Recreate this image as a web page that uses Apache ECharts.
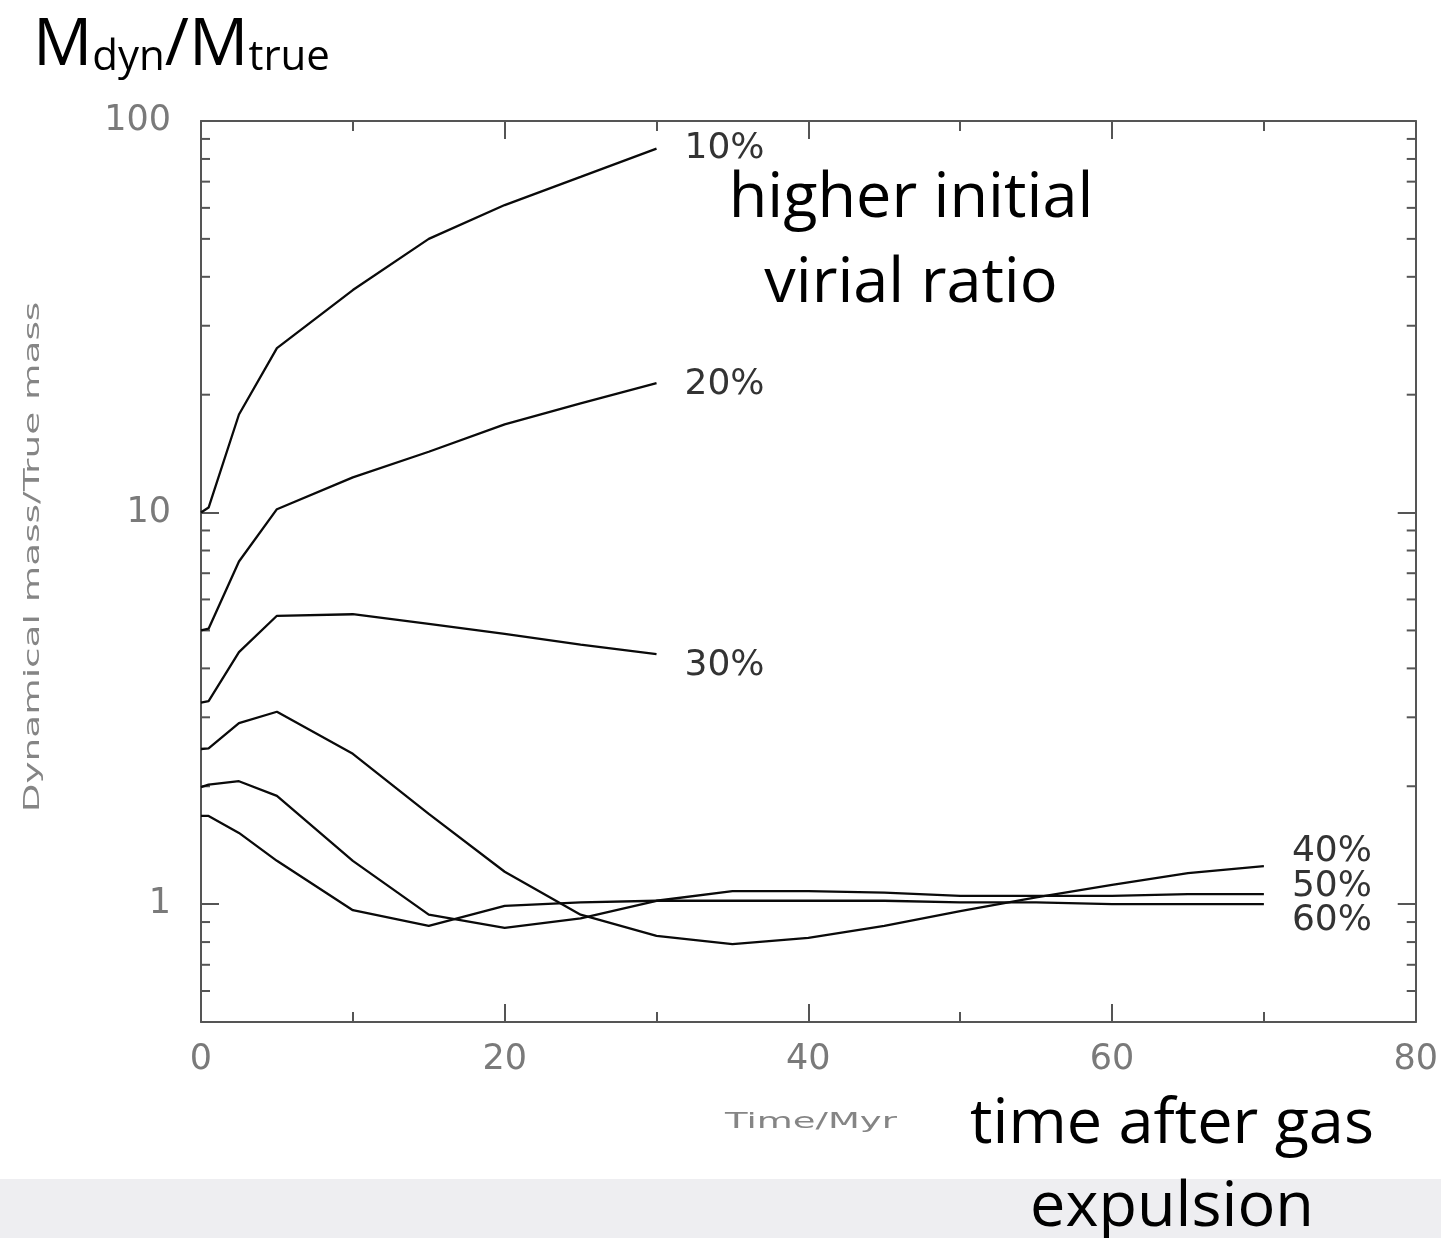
<!DOCTYPE html>
<html>
<head>
<meta charset="utf-8">
<title>Dynamical mass / true mass after gas expulsion</title>
<script src="https://cdn.jsdelivr.net/npm/echarts@6/dist/echarts.min.js"></script>
<style>
  html, body { margin: 0; padding: 0; background: #ffffff; }
  #chart { width: 1441px; height: 1238px; }
</style>
</head>
<body>
<div id="chart"></div>
<script>
// Time samples (Myr) for the short (10-30 %) and long (40-60 %) runs
const timesShort = [0, 0.5, 2.5, 5, 10, 15, 20, 25, 30];
const timesLong = [0, 0.5, 2.5, 5, 10, 15, 20, 25, 30, 35, 40, 45, 50, 55, 60, 65, 70];

// Dynamical mass / true mass for each star formation efficiency
const ratio10 = [10, 10.3, 17.8, 26.3, 37, 50, 61, 72, 85];
const ratio20 = [5, 5.05, 7.5, 10.2, 12.3, 14.3, 16.8, 19, 21.4];
const ratio30 = [3.27, 3.3, 4.4, 5.45, 5.5, 5.2, 4.9, 4.6, 4.35];
const ratio40 = [2.49, 2.5, 2.9, 3.1, 2.42, 1.7, 1.21, 0.94, 0.83, 0.79, 0.82, 0.88, 0.96, 1.04, 1.12, 1.2, 1.25];
const ratio50 = [1.99, 2.02, 2.06, 1.89, 1.29, 0.94, 0.87, 0.92, 1.02, 1.08, 1.08, 1.07, 1.05, 1.05, 1.05, 1.06, 1.06];
const ratio60 = [1.68, 1.68, 1.52, 1.29, 0.965, 0.88, 0.99, 1.01, 1.02, 1.02, 1.02, 1.02, 1.01, 1.01, 1.0, 1.0, 1.0];

const seriesNames = ['10%', '20%', '30%', '40%', '50%', '60%'];

// Axis tick values
const xTickValues = [0, 20, 40, 60, 80];
const yRange = [0.5, 100];
const yMajorTicks = [1, 10, 100];
const yMinorTicks = [0.6, 0.7, 0.8, 0.9, 2, 3, 4, 5, 6, 7, 8, 9, 20, 30, 40, 50, 60, 70, 80, 90];

const frameColor = '#555555';
const lineColor = '#0a0a0a';
const plotFont = 'DejaVu Sans';
const slideFont = '"Open Sans", "Noto Sans", sans-serif';

function pairs(times, values) {
  return times.map((t, i) => [t, values[i]]);
}

const curves = [
  { name: seriesNames[0], data: pairs(timesShort, ratio10), dy: 0 },
  { name: seriesNames[1], data: pairs(timesShort, ratio20), dy: 1 },
  { name: seriesNames[2], data: pairs(timesShort, ratio30), dy: 12 },
  { name: seriesNames[3], data: pairs(timesLong, ratio40), dy: -15 },
  { name: seriesNames[4], data: pairs(timesLong, ratio50), dy: -8 },
  { name: seriesNames[5], data: pairs(timesLong, ratio60), dy: 17 }
];

const frameLine = { show: true, onZero: false, lineStyle: { color: frameColor, width: 2 } };

function xAxis(position, showLabels) {
  return {
    type: 'value',
    position: position,
    min: xTickValues[0],
    max: xTickValues[xTickValues.length - 1],
    interval: xTickValues[1] - xTickValues[0],
    axisLine: frameLine,
    axisTick: { show: true, inside: true, length: 18, lineStyle: { color: frameColor, width: 2 } },
    minorTick: { show: true, splitNumber: 2, length: 10, lineStyle: { color: frameColor, width: 2 } },
    splitLine: { show: false },
    minorSplitLine: { show: false },
    axisLabel: {
      show: showLabels,
      fontFamily: plotFont,
      fontSize: 35,
      color: '#7a7a7a',
      margin: 20
    }
  };
}

function yAxis(position, showLabels) {
  return {
    type: 'log',
    logBase: 10,
    position: position,
    min: yRange[0],
    max: yRange[1],
    axisLine: frameLine,
    axisTick: {
      show: true,
      inside: true,
      length: 18,
      customValues: yMajorTicks,
      lineStyle: { color: frameColor, width: 2 }
    },
    splitLine: { show: false },
    axisLabel: {
      show: showLabels,
      customValues: yMajorTicks,
      fontFamily: plotFont,
      fontSize: 35,
      color: '#7a7a7a',
      margin: 30
    }
  };
}

// Short minor ticks (2..9 per decade) on both vertical frame edges,
// placed through the log axis so they follow its scale.
const minorTickSeries = {
  type: 'custom',
  xAxisIndex: 0,
  yAxisIndex: 0,
  silent: true,
  clip: false,
  data: yMinorTicks.map(v => [xTickValues[0], v]),
  renderItem: function (params, api) {
    const v = api.value(1);
    const left = api.coord([xTickValues[0], v]);
    const right = api.coord([xTickValues[xTickValues.length - 1], v]);
    const len = 9;
    const style = { stroke: frameColor, lineWidth: 2 };
    return {
      type: 'group',
      children: [
        { type: 'line', shape: { x1: left[0], y1: left[1], x2: left[0] + len, y2: left[1] }, style: style },
        { type: 'line', shape: { x1: right[0], y1: right[1], x2: right[0] - len, y2: right[1] }, style: style }
      ]
    };
  },
  z: 3
};

const chart = echarts.init(document.getElementById('chart'), null, { renderer: 'canvas' });

chart.setOption({
  animation: false,
  backgroundColor: '#ffffff',
  grid: { left: 201, top: 121, width: 1216, height: 901, containLabel: false },
  xAxis: [xAxis('bottom', true), xAxis('top', false)],
  yAxis: [yAxis('left', true), yAxis('right', false)],
  series: curves.map(c => ({
    type: 'line',
    name: c.name,
    xAxisIndex: 0,
    yAxisIndex: 0,
    data: c.data,
    showSymbol: false,
    symbol: 'none',
    lineStyle: { color: lineColor, width: 2.3 },
    endLabel: {
      show: true,
      formatter: '{a}',
      distance: 0,
      offset: [28, c.dy],
      fontFamily: plotFont,
      fontSize: 36,
      color: '#333333'
    },
    emphasis: { disabled: true }
  })).concat([minorTickSeries]),
  graphic: [
    {
      type: 'rect',
      silent: true,
      shape: { x: 0, y: 1179, width: 1441, height: 59 },
      style: { fill: '#eeeef1' },
      z: 0
    },
    {
      type: 'text',
      x: 33,
      y: 13,
      silent: true,
      style: {
        text: '{m|M}{s|dyn}{m|/M}{s|true}',
        fill: '#000',
        rich: {
          m: { fontFamily: slideFont, fontSize: 66, lineHeight: 66, verticalAlign: 'bottom', fill: '#000' },
          s: { fontFamily: slideFont, fontSize: 42, lineHeight: 42, verticalAlign: 'bottom', fill: '#000' }
        }
      }
    },
    {
      type: 'text',
      x: 33,
      y: 557,
      rotation: Math.PI / 2,
      scaleX: 1.7,
      silent: true,
      style: {
        text: 'Dynamical mass/True mass',
        fontFamily: plotFont,
        fontSize: 22,
        fill: '#858585',
        align: 'center',
        verticalAlign: 'middle',
        textAlign: 'center',
        textVerticalAlign: 'middle'
      }
    },
    {
      type: 'text',
      x: 811,
      y: 1122,
      scaleX: 1.68,
      silent: true,
      style: {
        text: 'Time/Myr',
        fontFamily: plotFont,
        fontSize: 22,
        fill: '#858585',
        align: 'center',
        verticalAlign: 'middle',
        textAlign: 'center',
        textVerticalAlign: 'middle'
      }
    },
    {
      type: 'text',
      x: 911,
      y: 199,
      silent: true,
      style: {
        text: 'higher initial',
        fontFamily: slideFont,
        fontSize: 63,
        fill: '#000',
        align: 'center',
        verticalAlign: 'middle',
        textAlign: 'center',
        textVerticalAlign: 'middle'
      }
    },
    {
      type: 'text',
      x: 911,
      y: 284,
      silent: true,
      style: {
        text: 'virial ratio',
        fontFamily: slideFont,
        fontSize: 63,
        fill: '#000',
        align: 'center',
        verticalAlign: 'middle',
        textAlign: 'center',
        textVerticalAlign: 'middle'
      }
    },
    {
      type: 'text',
      x: 1172,
      y: 1125,
      silent: true,
      style: {
        text: 'time after gas',
        fontFamily: slideFont,
        fontSize: 63,
        fill: '#000',
        align: 'center',
        verticalAlign: 'middle',
        textAlign: 'center',
        textVerticalAlign: 'middle'
      }
    },
    {
      type: 'text',
      x: 1172,
      y: 1208,
      silent: true,
      z: 10,
      style: {
        text: 'expulsion',
        fontFamily: slideFont,
        fontSize: 63,
        fill: '#000',
        align: 'center',
        verticalAlign: 'middle',
        textAlign: 'center',
        textVerticalAlign: 'middle'
      }
    }
  ]
});
</script>
</body>
</html>
